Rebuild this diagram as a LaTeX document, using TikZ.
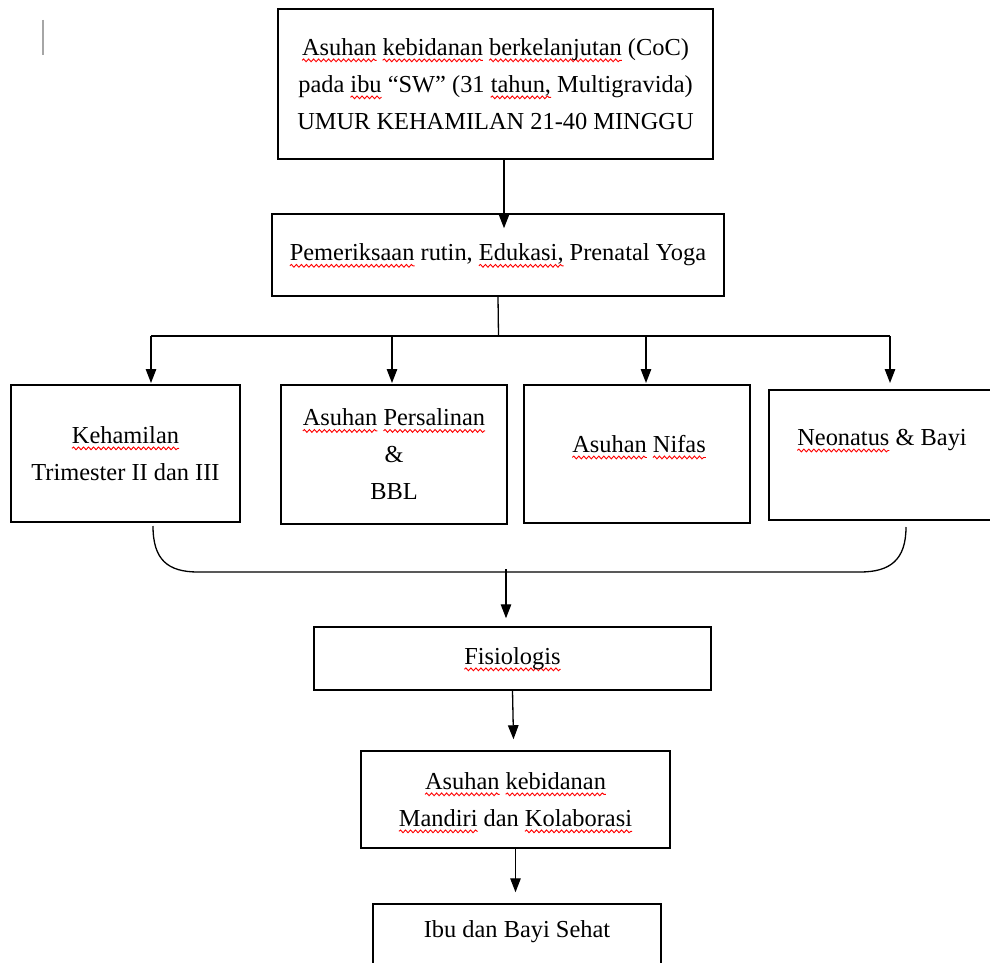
\documentclass[tikz,border=0pt]{standalone}
\usepackage{fontspec}
\setmainfont{Liberation Serif}
\usetikzlibrary{arrows.meta,decorations.pathmorphing}
\newlength\sqw
\newcommand\sq[1]{\settowidth{\sqw}{#1}\rlap{\tikz[overlay,baseline=0pt]{\draw[red, line width=0.9pt, decorate, decoration={snake,amplitude=1.4pt,segment length=5pt}]
    (0pt,-5pt) -- (\sqw,-5pt);}}#1}
\tikzset{
  box/.style={draw, line width=1.5pt, inner sep=0pt, align=center, font=\fontsize{24.4}{37}\selectfont},
  txt/.style={inner sep=0pt, align=center, font=\fontsize{24.4}{37}\selectfont},
  arr/.style={line width=1.3pt, -{Triangle[width=10.5pt,length=14pt]}},
  ln/.style={line width=1.3pt}
}
\begin{document}
\begin{tikzpicture}[x=1pt,y=-1pt]
\useasboundingbox (0,0) rectangle (990,963);
\clip (0,0) rectangle (990,963);
\fill[white] (0,0) rectangle (990,963);
\draw[gray!70, line width=1.5pt] (43,20) -- (43,55);

\node[box, minimum width=435pt, minimum height=150pt] (top) at (495.5,84)
  {\sq{Asuhan} \sq{kebidanan} \sq{berkelanjutan} (CoC)\\
   pada \sq{ibu} “SW” (31 \sq{tahun,} Multigravida)\\
   UMUR KEHAMILAN 21-40 MINGGU};
\node[box, minimum width=452pt, minimum height=82pt] (pr) at (498,255)
  {\sq{Pemeriksaan} rutin, \sq{Edukasi,} Prenatal Yoga};

\node[box, minimum width=229pt, minimum height=137pt] (k) at (125.5,453.5)
  {\sq{Kehamilan}\\Trimester II dan III};
\node[box, minimum width=226pt, minimum height=139pt] (ap) at (394,454.5)
  {\sq{Asuhan} \sq{Persalinan}\\\&\\BBL};
\node[box, minimum width=226pt, minimum height=138pt] (an) at (637,454) {};
\node[txt] (ant) at (639,444) {\sq{Asuhan} \sq{Nifas}};
\node[box, minimum width=231pt, minimum height=130pt] (nb) at (884.5,455) {};
\node[txt] (nbt) at (882,440) {\sq{Neonatus} \& Bayi};

\node[box, minimum width=397pt, minimum height=63pt] (f) at (512.5,658.5)
  {\sq{Fisiologis}};
\node[box, minimum width=309pt, minimum height=97pt] (a) at (515.5,799.5)
  {\sq{Asuhan} \sq{kebidanan}\\\sq{Mandiri} dan \sq{Kolaborasi}};
\node[box, minimum width=288pt, minimum height=100pt] (i) at (517,954) {};
\node[txt] (it) at (517,932) {Ibu dan Bayi Sehat};

% connectors
\draw[arr] ([xshift=8.5pt]top.south) -- ([xshift=6pt,yshift=-15pt]pr.north);
\coordinate (bus) at (498.5,336);
\coordinate (busL) at (151,336);
\coordinate (busR) at (890,336);
\draw[ln] (pr.south) -- (bus);
\draw[ln] (busL) -- (busR);
\coordinate (b2) at (392,336);
\coordinate (b3) at (646,336);
\draw[arr] (busL) -- (busL |- 0,383);
\draw[arr] (b2) -- (b2 |- 0,383);
\draw[arr] (b3) -- (b3 |- 0,383);
\draw[arr] (busR) -- (busR |- 0,383);

% bracket
\coordinate (cl) at (153,526);
\coordinate (cr) at (906,527);
\draw[ln] (cl) .. controls (153,560) and (168,572) .. (198,572) -- (860,572)
  .. controls (890,572) and (906,560) .. (cr);
\coordinate (cm) at (506,569);
\draw[arr] (cm) -- ([xshift=-6.5pt,yshift=8pt]f.north);

\draw[arr] (f.south) -- ([xshift=-2pt,yshift=11pt]a.north);
\draw[arr] (a.south) -- ([yshift=11pt]a.south |- i.north);
\end{tikzpicture}
\end{document}
